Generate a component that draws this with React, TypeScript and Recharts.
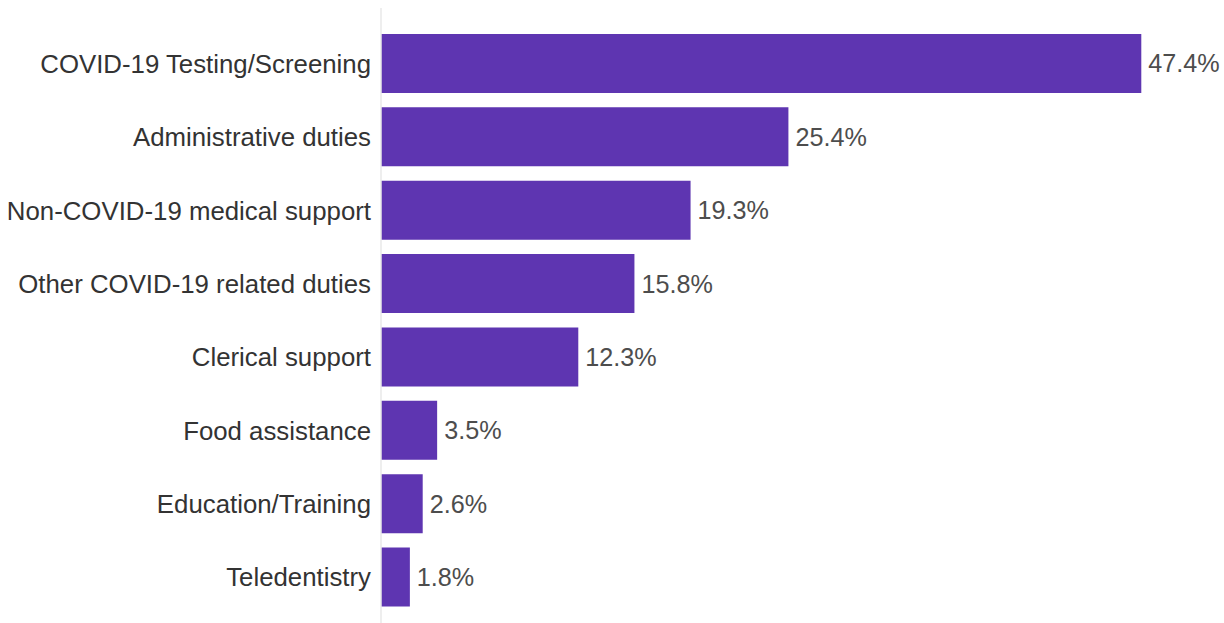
import { BarChart, Bar, XAxis, YAxis, LabelList } from 'recharts'

const categories = [
  'COVID-19 Testing/Screening',
  'Administrative duties',
  'Non-COVID-19 medical support',
  'Other COVID-19 related duties',
  'Clerical support',
  'Food assistance',
  'Education/Training',
  'Teledentistry',
]
const shares = [47.4, 25.4, 19.3, 15.8, 12.3, 3.5, 2.6, 1.8]

const data = categories.map((name, i) => ({ name, value: shares[i] }))

const font = 'Liberation Sans, Arial, sans-serif'

export default function App() {
  return (
    <div style={{ position: 'absolute', left: 0, top: 0, background: '#fff' }}>
      <BarChart
        width={1224}
        height={623}
        data={data}
        layout="vertical"
        margin={{ top: 8, right: 41, bottom: 0, left: 0 }}
        barCategoryGap="9.5%"
      >
        <XAxis type="number" domain={[0, 50]} hide />
        <YAxis
          type="category"
          dataKey="name"
          width={381}
          tickLine={false}
          tickSize={0}
          tickMargin={10}
          axisLine={{ stroke: '#e8e8e8', strokeWidth: 1.5 }}
          padding={{ top: 19, bottom: 9 }}
          tick={{ fill: '#333333', fontSize: 25.8, fontFamily: font }}
        />
        <Bar dataKey="value" fill="#5E35B1" isAnimationActive={false}>
          <LabelList
            dataKey="value"
            position="right"
            offset={7}
            formatter={(v: any) => `${Number(v).toFixed(1)}%`}
            style={{ fill: '#4d4d4d', fontSize: 25.2, fontFamily: font }}
          />
        </Bar>
      </BarChart>
    </div>
  )
}
